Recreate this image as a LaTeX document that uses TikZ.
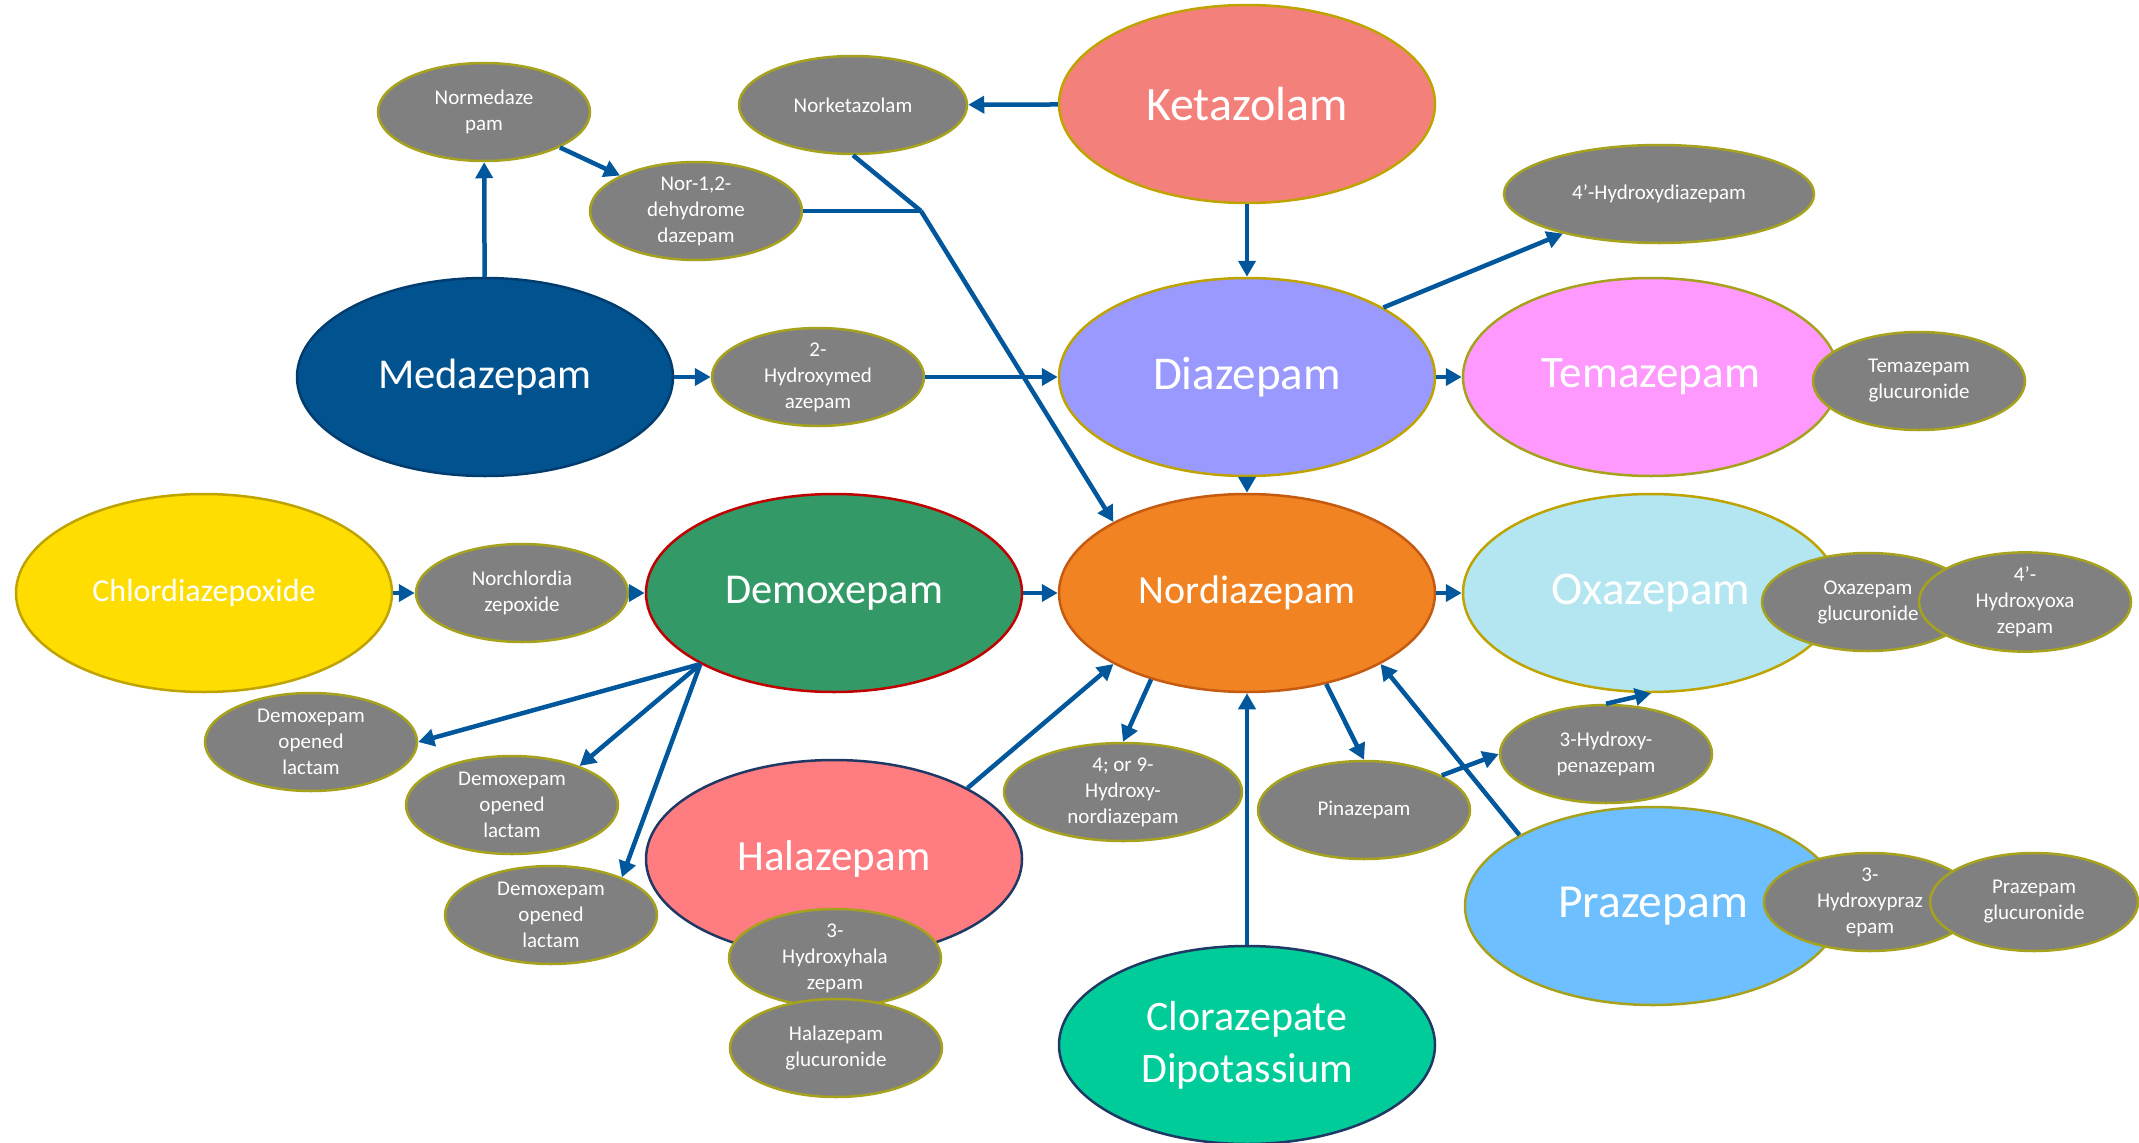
\documentclass[tikz,border=0pt]{standalone}
\usepackage{fontspec}
\setmainfont{Carlito}
\usetikzlibrary{shapes.geometric}
\usetikzlibrary{arrows.meta}

\definecolor{flowblue}{HTML}{00579B}
\definecolor{metabgray}{HTML}{808080}
\definecolor{metabrim}{HTML}{A6A21E}
\definecolor{goldrim}{HTML}{BFA300}
\definecolor{ketfill}{HTML}{F4807C}
\definecolor{diafill}{HTML}{9999FF}
\definecolor{temafill}{HTML}{FF99FF}
\definecolor{medfill}{HTML}{00538F}
\definecolor{medrim}{HTML}{003C6E}
\definecolor{nordfill}{HTML}{F28322}
\definecolor{nordrim}{HTML}{C55A11}
\definecolor{oxafill}{HTML}{B3E6F0}
\definecolor{demfill}{HTML}{339966}
\definecolor{demrim}{HTML}{C00000}
\definecolor{chlorfill}{HTML}{FFDD00}
\definecolor{halafill}{HTML}{FF7C80}
\definecolor{navyrim}{HTML}{1F3864}
\definecolor{prazfill}{HTML}{6DBFFF}
\definecolor{clorfill}{HTML}{00CC99}

\newcommand{\bigfont}[1]{\fontsize{#1}{52}\selectfont}

\begin{document}
\begin{tikzpicture}[x=1pt,y=-1pt,
  drug/.style={ellipse, line width=2.5pt, minimum width=376pt, minimum height=198pt,
    inner sep=0pt, text=white, align=center},
  metab/.style={ellipse, fill=metabgray, draw=metabrim, line width=2.5pt,
    minimum width=212pt, minimum height=98pt, inner sep=0pt, text=white, align=center,
    font=\fontsize{21}{26}\selectfont},
  flow/.style={draw=flowblue, line width=4.5pt, -{Triangle[length=16pt,width=17pt]}},
  feed/.style={draw=flowblue, line width=4.5pt}]
\useasboundingbox (0,0) rectangle (2139,1143);

% parent drugs
\node[drug, fill=ketfill, draw=goldrim, font=\bigfont{48}] (ket) at (1247,104) {Ketazolam};
\node[drug, fill=diafill, draw=goldrim, font=\bigfont{47}] (dia) at (1247,377) {Diazepam};
\node[drug, fill=temafill, draw=metabrim, font=\bigfont{45}] (tema) at (1651,377) {Temazepam};
\node[drug, fill=medfill, draw=medrim, font=\bigfont{42.5}] (med) at (485,377) {Medazepam};
\node[drug, fill=nordfill, draw=nordrim, font=\bigfont{40}] (nord) at (1247,593) {Nordiazepam};
\node[drug, fill=oxafill, draw=goldrim, font=\bigfont{47}] (oxa) at (1651,593) {Oxazepam};
\node[drug, fill=demfill, draw=demrim, font=\bigfont{42.5}] (dem) at (834,593) {Demoxepam};
\node[drug, fill=chlorfill, draw=goldrim, font=\bigfont{32}] (chlor) at (204,593) {Chlordiazepoxide};
\node[drug, fill=halafill, draw=navyrim, font=\bigfont{43}] (hala) at (834,859) {Halazepam};
\node[drug, fill=prazfill, draw=metabrim, font=\bigfont{47.5}] (praz) at (1653,906) {Prazepam};
\node[drug, fill=clorfill, draw=navyrim, font=\bigfont{42}] (clor) at (1247,1045) {Clorazepate\\Dipotassium};

% metabolites
\node[metab] (normed) at (484,112) {Normedaze\\pam};
\node[metab, minimum width=228pt] (norket) at (853,105) {Norketazolam};
\node[metab] (dehyd) at (696,211) {Nor-1,2-\\dehydrome\\dazepam};
\node[metab] (hmed) at (818,377) {2-\\Hydroxymed\\azepam};
\node[metab, minimum width=310pt] (hdia) at (1659,194) {4'-Hydroxydiazepam};
\node[metab] (temagluc) at (1919,381) {Temazepam\\glucuronide};
\node[metab] (norchlor) at (522,593) {Norchlordia\\zepoxide};
\node[metab] (lactA) at (311,742) {Demoxepam\\opened\\lactam};
\node[metab] (lactB) at (512,805) {Demoxepam\\opened\\lactam};
\node[metab] (lactC) at (551,915) {Demoxepam\\opened\\lactam};
\node[metab] (hhala) at (835,958) {3-\\Hydroxyhala\\zepam};
\node[metab] (halagluc) at (836,1048) {Halazepam\\glucuronide};
\node[metab, minimum width=238pt] (hnord) at (1123,792) {4; or 9-\\Hydroxy-\\nordiazepam};
\node[metab] (pina) at (1364,810) {Pinazepam};
\node[metab] (hpina) at (1606,754) {3-Hydroxy-\\penazepam};
\node[metab] (oxagluc) at (1868,602) {Oxazepam\\glucuronide};
\node[metab] (hoxa) at (2025,602) {4'-\\Hydroxyoxa\\zepam};
\node[metab] (hpraz) at (1870,902) {3-\\Hydroxypraz\\epam};
\node[metab, minimum width=208pt] (prazgluc) at (2034,902) {Prazepam\\glucuronide};

% pathways
\coordinate (meet) at (921,211);
\draw[flow] (ket) -- (norket);
\draw[flow] (ket) -- (dia);
\draw[flow] (med) -- (normed);
\draw[flow] (normed) -- (dehyd);
\draw[feed] (dehyd.east) -- (meet);
\draw[feed] (norket.south) -- (meet);
\draw[flow] (meet) -- (nord.152);
\draw[flow] (med) -- (hmed);
\draw[flow] (hmed) -- (dia);
\draw[flow] (dia.27) -- (hdia);
\draw[flow] (dia) -- (tema);
\draw[flow] (dia) -- (nord);
\draw[flow] (chlor) -- (norchlor);
\draw[flow] (norchlor) -- (dem);
\draw[flow] (dem) -- (nord);
\draw[flow] (nord) -- (oxa);
\draw[flow] (dem.208) -- (lactA.east);
\draw[flow] (dem.208) -- (lactB.30);
\draw[flow] (dem.208) -- (lactC.28);
\draw[flow] (hala.28) -- (nord.208);
\draw[flow] (nord.222) -- (hnord.north);
\draw[flow] (nord.311) -- (pina.north);
\draw[flow] (clor) -- (nord);
\draw[flow] (praz.152) -- (nord.332);
\draw[flow] (pina.24) -- (hpina.west);
\draw[flow] (hpina.north) -- (oxa.south);
\end{tikzpicture}
\end{document}
